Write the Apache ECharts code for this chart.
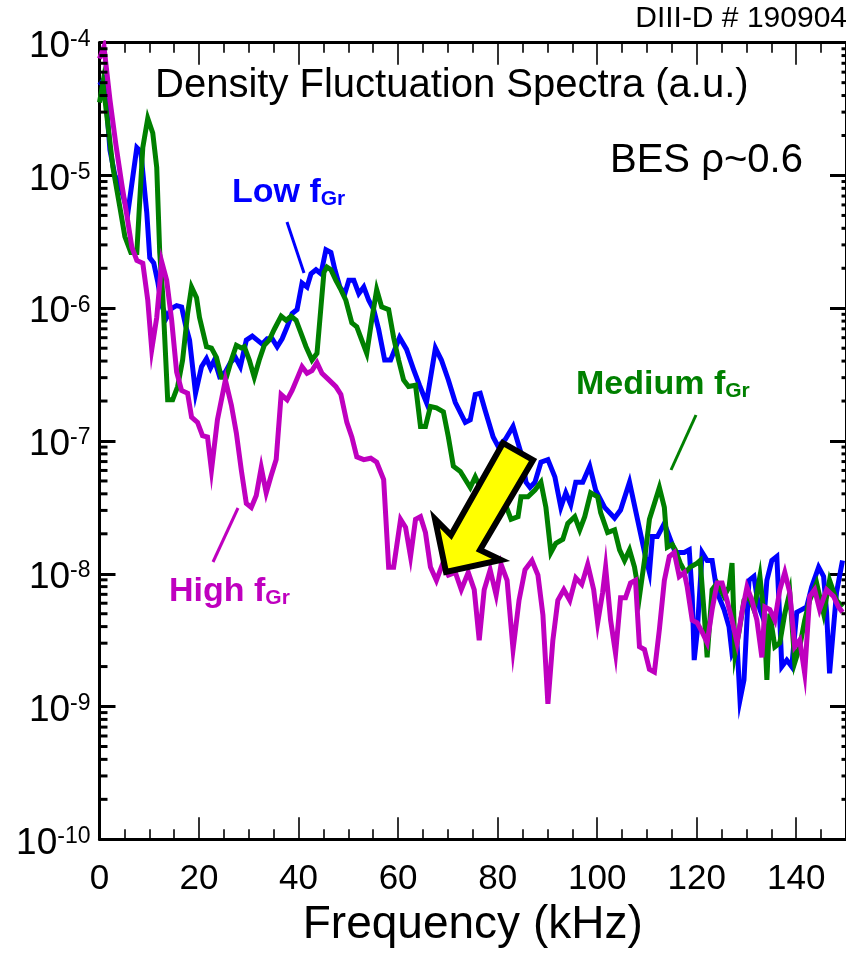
<!DOCTYPE html>
<html>
<head>
<meta charset="utf-8">
<script src="https://cdn.jsdelivr.net/npm/echarts@6/dist/echarts.min.js"></script>
<style>
  html, body { margin: 0; padding: 0; background: #fff; }
  #chart { width: 846px; height: 955px; }
</style>
</head>
<body>
<div id="chart"></div>
<script>
// Spectra as [frequency (kHz), log10 power (a.u.)] vertices
const lowSpectrum = [
  [0,-4.32],[1.0,-4.27],[2.1,-4.81],[3.1,-5.00],[4.1,-5.07],[5.7,-5.28],[7.5,-4.79],[8.3,-4.82],[9.5,-5.28],[10.1,-5.62],
  [10.9,-5.66],[11.7,-5.80],[12.5,-5.98],[13.5,-6.07],[14.5,-6.00],[15.5,-5.98],[16.5,-5.99],[17.3,-6.13],[18.1,-6.24],[19.3,-6.64],
  [20.5,-6.44],[21.5,-6.38],[22.3,-6.45],[23.1,-6.39],[24.1,-6.51],[25.3,-6.48],[26.3,-6.41],[27.3,-6.37],[28.3,-6.44],[29.5,-6.24],
  [30.7,-6.21],[31.7,-6.24],[32.7,-6.27],[33.7,-6.23],[34.7,-6.23],[35.7,-6.29],[36.7,-6.23],[37.7,-6.14],[38.7,-6.04],[39.7,-6.01],
  [40.7,-5.81],[41.7,-5.84],[42.5,-5.74],[43.5,-5.71],[44.5,-5.74],[45.5,-5.56],[46.5,-5.58],[47.3,-5.71],[48.3,-5.84],[49.3,-5.89],
  [50.1,-5.79],[51.1,-5.79],[52.1,-5.89],[53.1,-5.84],[54.1,-5.94],[55.1,-6.01],[56.1,-6.16],[57.3,-6.39],[58.5,-6.39],[60.3,-6.22],
  [61.7,-6.31],[63.1,-6.46],[64.3,-6.58],[65.7,-6.71],[67.5,-6.30],[68.7,-6.39],[70.1,-6.54],[71.5,-6.71],[73.5,-6.86],[74.5,-6.84],
  [75.5,-6.65],[76.5,-6.64],[77.5,-6.77],[79.1,-6.97],[80.1,-7.04],[81.5,-6.99],[83.1,-6.89],[84.7,-7.09],[85.7,-7.31],[86.5,-7.35],
  [87.5,-7.31],[88.7,-7.16],[90.1,-7.14],[91.5,-7.27],[92.7,-7.50],[93.7,-7.39],[94.7,-7.48],[95.7,-7.31],[97.1,-7.31],[98.5,-7.19],
  [99.7,-7.37],[101.5,-7.50],[103.5,-7.58],[104.7,-7.52],[106.5,-7.31],[108.1,-7.59],[109.7,-7.87],[110.5,-7.99],[111.1,-7.72],[112.1,-7.72],
  [113.5,-7.62],[114.5,-7.72],[115.7,-7.84],[117.5,-7.84],[118.5,-7.82],[119.1,-8.17],[119.5,-8.65],[120.1,-8.44],[121.1,-7.84],[122.1,-7.90],
  [123.1,-7.90],[124.1,-8.14],[125.5,-8.27],[126.5,-8.40],[127.1,-8.60],[128.1,-8.52],[128.7,-8.95],[129.5,-8.80],[130.5,-8.05],[131.5,-8.02],
  [132.1,-8.17],[132.7,-8.27],[133.5,-8.35],[134.1,-8.05],[135.1,-7.90],[136.1,-7.87],[136.7,-8.35],[137.1,-8.70],[138.1,-8.65],[139.1,-8.70],
  [140.1,-8.29],[141.1,-8.27],[142.1,-8.25],[143.1,-8.10],[144.5,-7.95],[145.5,-8.02],[146.1,-8.29],[146.7,-8.75],[148.1,-8.14],[149.3,-7.90]
];

const mediumSpectrum = [
  [0,-4.45],[0.7,-4.30],[1.5,-4.56],[2.7,-4.94],[4.1,-5.24],[5.1,-5.46],[6.3,-5.58],[7.5,-5.58],[8.1,-5.18],[8.7,-4.79],
  [9.7,-4.57],[10.7,-4.68],[11.5,-4.94],[12.1,-5.58],[12.7,-5.90],[13.7,-6.69],[14.7,-6.69],[15.7,-6.59],[16.7,-6.39],[17.7,-6.04],
  [18.5,-5.84],[19.5,-5.92],[20.1,-6.07],[21.5,-6.29],[22.5,-6.30],[23.5,-6.37],[24.5,-6.52],[25.5,-6.52],[26.5,-6.39],[27.5,-6.28],
  [28.5,-6.30],[29.1,-6.29],[30.1,-6.39],[31.1,-6.52],[32.1,-6.39],[33.1,-6.28],[34.1,-6.24],[35.1,-6.16],[36.5,-6.06],[37.5,-6.09],
  [38.5,-6.06],[39.5,-6.09],[40.5,-6.19],[41.5,-6.29],[42.7,-6.39],[43.7,-6.34],[44.5,-5.99],[45.1,-5.73],[45.7,-5.69],[46.5,-5.71],
  [47.5,-5.79],[48.5,-5.86],[49.5,-5.94],[50.7,-6.11],[51.7,-6.14],[52.7,-6.24],[53.7,-6.34],[54.7,-6.09],[55.7,-5.86],[56.7,-5.99],
  [58.1,-6.01],[59.1,-6.22],[60.1,-6.39],[61.1,-6.54],[62.1,-6.59],[63.5,-6.58],[64.5,-6.89],[65.5,-6.89],[66.5,-6.74],[67.7,-6.75],
  [69.1,-6.78],[70.1,-6.97],[71.1,-7.19],[72.5,-7.23],[73.5,-7.29],[74.5,-7.35],[75.5,-7.27],[76.5,-7.35],[77.5,-7.42],[79.1,-7.44],
  [80.5,-7.44],[81.5,-7.47],[82.7,-7.59],[84.1,-7.57],[84.7,-7.42],[86.1,-7.42],[87.5,-7.37],[88.7,-7.31],[89.7,-7.50],[90.7,-7.84],
  [91.7,-7.77],[93.1,-7.74],[94.1,-7.62],[95.5,-7.57],[96.5,-7.67],[97.5,-7.57],[98.7,-7.39],[100.1,-7.42],[100.7,-7.54],[102.1,-7.69],
  [103.5,-7.67],[104.5,-7.82],[105.5,-7.90],[106.5,-7.82],[107.5,-7.95],[108.5,-8.17],[109.5,-7.90],[110.5,-7.59],[111.5,-7.47],[112.5,-7.35],
  [113.5,-7.50],[114.1,-7.80],[115.1,-7.78],[115.7,-7.82],[116.7,-7.92],[117.7,-7.99],[118.7,-7.95],[120.1,-7.92],[120.7,-7.90],[121.5,-8.30],
  [122.1,-8.63],[123.1,-8.12],[124.1,-8.07],[125.5,-8.17],[126.5,-8.10],[127.1,-7.92],[127.7,-8.60],[128.5,-8.44],[129.5,-8.20],[130.5,-8.17],
  [131.5,-8.27],[132.7,-8.02],[133.5,-8.30],[134.1,-8.80],[134.7,-8.30],[135.7,-8.55],[136.7,-8.52],[137.7,-8.30],[138.7,-8.14],[139.7,-8.67],
  [140.7,-8.55],[141.7,-8.35],[142.7,-8.20],[144.1,-8.07],[145.5,-8.30],[146.7,-8.05],[148.1,-8.20],[149.3,-8.25]
];

const highSpectrum = [
  [0,-4.12],[0.9,-4.03],[2.1,-4.43],[3.3,-4.77],[4.5,-5.07],[5.5,-5.30],[6.5,-5.54],[7.5,-5.64],[8.7,-5.66],[9.7,-5.94],
  [10.5,-6.31],[11.5,-6.07],[12.5,-5.65],[13.5,-5.79],[14.5,-6.09],[15.5,-6.48],[16.5,-6.62],[17.7,-6.64],[18.5,-6.82],[19.7,-6.86],
  [20.7,-6.96],[21.7,-6.97],[22.5,-7.22],[23.7,-6.84],[25.3,-6.54],[26.5,-6.73],[27.5,-6.94],[28.5,-7.22],[29.5,-7.47],[30.5,-7.50],
  [31.5,-7.41],[32.5,-7.20],[33.5,-7.39],[34.5,-7.26],[35.5,-7.14],[36.5,-6.65],[37.7,-6.69],[38.7,-6.62],[39.7,-6.53],[40.7,-6.44],
  [41.7,-6.49],[42.7,-6.47],[43.7,-6.41],[44.7,-6.49],[46.1,-6.54],[47.5,-6.59],[48.5,-6.65],[49.7,-6.86],[50.7,-6.97],[51.7,-7.12],
  [53.1,-7.14],[54.5,-7.13],[55.7,-7.16],[57.1,-7.29],[58.1,-7.95],[59.1,-7.95],[60.5,-7.59],[61.5,-7.65],[62.5,-7.87],[63.5,-7.59],
  [64.5,-7.57],[65.5,-7.69],[66.5,-7.95],[67.7,-8.05],[68.9,-7.93],[70.1,-8.01],[71.5,-7.99],[72.7,-8.12],[74.1,-7.99],[75.3,-8.12],
  [76.3,-8.50],[77.3,-8.12],[78.5,-7.97],[79.7,-8.16],[80.7,-7.93],[81.9,-8.05],[83.1,-8.57],[84.3,-8.20],[85.5,-7.97],[86.9,-7.90],
  [88.1,-8.01],[89.1,-8.31],[90.1,-8.98],[91.1,-8.50],[92.1,-8.20],[93.3,-8.12],[94.5,-8.20],[95.7,-8.03],[96.9,-8.08],[98.1,-7.93],
  [99.3,-8.12],[100.1,-8.37],[101.1,-8.14],[101.7,-7.95],[102.7,-8.35],[103.7,-8.60],[104.7,-8.18],[105.7,-8.18],[106.7,-8.07],[107.7,-8.05],
  [108.5,-8.55],[109.5,-8.57],[110.5,-8.72],[111.5,-8.74],[112.5,-8.42],[113.5,-8.05],[114.5,-7.87],[115.5,-7.84],[116.5,-8.02],[117.5,-7.99],
  [118.1,-8.10],[119.1,-8.35],[120.1,-8.37],[121.1,-8.44],[122.1,-8.52],[123.1,-8.27],[124.1,-8.07],[125.1,-8.07],[126.1,-8.20],[127.1,-8.35],
  [128.1,-8.52],[129.1,-8.29],[130.1,-8.10],[131.1,-8.20],[132.1,-8.35],[133.1,-8.63],[133.7,-8.25],[134.7,-8.27],[135.7,-8.35],[136.7,-8.12],
  [137.7,-7.99],[138.7,-8.14],[139.7,-8.55],[140.7,-8.50],[141.7,-8.75],[142.7,-8.17],[143.7,-8.12],[144.7,-8.27],[146.1,-8.12],[147.5,-8.17],
  [148.5,-8.25],[149.3,-8.29]
];

const freqRange = [0, 150];
const freqStep = 20;
const powerRange = [1e-10, 1e-4];
const decadeExponents = [-10, -9, -8, -7, -6, -5];
const minorMantissas = [2, 3, 4, 5, 6, 7, 8, 9];

const COLORS = { low: '#0000ff', medium: '#008000', high: '#bf00bf' };
const FONT = 'Liberation Sans, Arial, sans-serif';

const GRID = { left: 99.5, top: 42.7, width: 750, height: 796.6 };

const toPower = (pts) => pts.map(p => [p[0], Math.pow(10, p[1])]);

const tickStyle = { color: '#000', width: 1.6 };
const yTickStyle = { color: '#000', width: 3 };

function xAxisCfg(pos, withLabels) {
  return {
    type: 'value', position: pos, min: freqRange[0], max: freqRange[1], interval: freqStep,
    axisLine: { onZero: false, lineStyle: { color: '#000', width: 3 } },
    axisTick: { inside: true, length: 22, lineStyle: tickStyle },
    minorTick: { show: true, splitNumber: 4, length: 10, lineStyle: tickStyle },
    splitLine: { show: false },
    axisLabel: withLabels
      ? { margin: 23, fontSize: 35, color: '#000', fontFamily: FONT, showMaxLabel: false }
      : { show: false }
  };
}

function yAxisCfg(pos, withLabels) {
  return {
    type: 'log', logBase: 10, position: pos, min: powerRange[0], max: powerRange[1],
    axisLine: { onZero: false, lineStyle: { color: '#000', width: 3 } },
    axisTick: { inside: true, length: 16, lineStyle: yTickStyle },
    splitLine: { show: false },
    axisLabel: withLabels ? {
      margin: 9,
      padding: [8, 0, 0, 0],
      formatter: (v) => '{b|10}{s|' + Math.round(Math.log10(v)) + '}',
      rich: {
        b: { fontSize: 37, fontFamily: FONT, color: '#000' },
        s: { fontSize: 23, fontFamily: FONT, color: '#000', verticalAlign: 'top' }
      }
    } : { show: false }
  };
}

const xAxes = [xAxisCfg('bottom', true), xAxisCfg('top', false)];
xAxes[0].name = 'Frequency (kHz)';
xAxes[0].nameLocation = 'middle';
xAxes[0].nameGap = 63;
xAxes[0].nameTextStyle = { fontSize: 46, color: '#000', fontFamily: FONT };

function lineSeries(name, pts, color) {
  return {
    name, type: 'line', xAxisIndex: 0, yAxisIndex: 0,
    data: toPower(pts), showSymbol: false, symbol: 'none',
    lineStyle: { color, width: 5, join: 'miter' },
    z: 3
  };
}

function label(text, sub, x, y, color) {
  return {
    type: 'text', x, y, z: 20,
    style: {
      text: '{m|' + text + '}{s|' + sub + '}',
      verticalAlign: 'middle', align: 'left',
      rich: {
        m: { fontSize: 34, fontWeight: 'bold', fontFamily: FONT, fill: color, color },
        s: { fontSize: 21, fontWeight: 'bold', fontFamily: FONT, fill: color, color, verticalAlign: 'bottom', lineHeight: 14 }
      }
    }
  };
}

function leader(x1, y1, x2, y2, color) {
  return { type: 'line', z: 20, shape: { x1, y1, x2, y2 }, style: { stroke: color, lineWidth: 3 } };
}

// short inward ticks at 2..9 x 10^n on both vertical frame edges (log spacing within the grid box)
const logLo = Math.log10(powerRange[0]);
const logHi = Math.log10(powerRange[1]);
const xLeft = GRID.left;
const xRight = GRID.left + GRID.width;
const minorTickMarks = [];
decadeExponents.forEach(e => {
  minorMantissas.forEach(m => {
    const y = GRID.top + (logHi - (e + Math.log10(m))) / (logHi - logLo) * GRID.height;
    minorTickMarks.push({ type: 'line', z: 10, shape: { x1: xLeft, y1: y, x2: xLeft + 8, y2: y }, style: { stroke: '#000', lineWidth: 3 } });
    minorTickMarks.push({ type: 'line', z: 10, shape: { x1: xRight, y1: y, x2: xRight - 8, y2: y }, style: { stroke: '#000', lineWidth: 3 } });
  });
});

const chart = echarts.init(document.getElementById('chart'), null, { renderer: 'canvas' });
chart.setOption({
  animation: false,
  backgroundColor: '#fff',
  grid: GRID,
  xAxis: xAxes,
  yAxis: [yAxisCfg('left', true), yAxisCfg('right', false)],
  series: [
    lineSeries('Low fGr', lowSpectrum, COLORS.low),
    lineSeries('Medium fGr', mediumSpectrum, COLORS.medium),
    lineSeries('High fGr', highSpectrum, COLORS.high)
  ],
  graphic: [
    { type: 'text', x: 155, y: 86, z: 20, style: { text: 'Density Fluctuation Spectra (a.u.)', font: '40px ' + FONT, fill: '#000', verticalAlign: 'middle' } },
    { type: 'text', x: 610, y: 161, z: 20, style: { text: 'BES \u03c1~0.6', font: '40px ' + FONT, fill: '#000', verticalAlign: 'middle' } },
    { type: 'text', x: 847, y: 19, z: 20, style: { text: 'DIII-D # 190904', font: '30px ' + FONT, fill: '#000', align: 'right', verticalAlign: 'middle' } },
    label('Low f', 'Gr', 232, 193, COLORS.low),
    label('Medium f', 'Gr', 576, 385, COLORS.medium),
    label('High f', 'Gr', 169, 592, COLORS.high),
    leader(287, 222, 304, 273, COLORS.low),
    leader(696, 415, 671, 470, COLORS.medium),
    leader(238, 508, 213, 562, COLORS.high),
    {
      type: 'polygon', z: 30,
      shape: { points: [[503, 443], [533, 460], [480, 550], [501, 560], [446, 572], [435, 519], [451, 535]] },
      style: { fill: '#ffff00', stroke: '#000', lineWidth: 6, lineJoin: 'miter' }
    }
  ].concat(minorTickMarks)
});
</script>
</body>
</html>
